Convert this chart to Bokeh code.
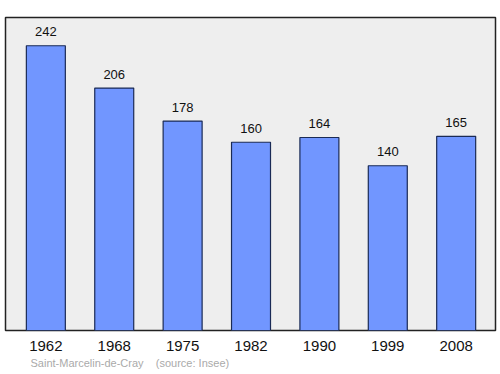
from bokeh.plotting import figure
from bokeh.models import FixedTicker, Range1d, Title, ColumnDataSource
from bokeh.core.properties import value
from bokeh.embed import file_html
from bokeh.resources import INLINE

years = ["1962", "1968", "1975", "1982", "1990", "1999", "2008"]
population = [242, 206, 178, 160, 164, 140, 165]
idx = list(range(len(years)))
labels = [str(v) for v in population]

src = ColumnDataSource(dict(x=idx, top=population, lab=labels))

p = figure(width=500, height=374, output_backend="svg", toolbar_location=None,
           x_range=Range1d(-0.59, 6.575), y_range=Range1d(0, 266),
           min_border_left=5, min_border_right=5, min_border_top=17, min_border_bottom=44)
p.background_fill_color = "#eeeeee"
p.border_fill_color = "white"
p.outline_line_color = "#222222"
p.outline_line_width = 1.5
p.grid.visible = False
p.yaxis.visible = False

p.vbar(x="x", top="top", width=0.57, bottom=0, source=src,
       fill_color="#7196ff", line_color="#1a2a55", line_width=1.2)
p.text(x="x", y="top", text="lab", source=src, text_align="center", text_baseline="middle",
       y_offset=-14, text_font=value("Liberation Sans"), text_font_size="13px", text_color="#111111")

ax = p.xaxis[0]
ax.ticker = FixedTicker(ticks=idx)
ax.major_label_overrides = {i: y for i, y in zip(idx, years)}
ax.axis_line_color = None
ax.major_tick_line_color = None
ax.minor_tick_line_color = None
ax.major_label_standoff = 4
ax.major_label_text_font = "Liberation Sans"
ax.major_label_text_font_size = "15px"
ax.major_label_text_color = "#111111"

p.add_layout(Title(text="Saint-Marcelin-de-Cray\u00a0\u00a0\u00a0\u00a0(source: Insee)", align="left", offset=25,
                   text_font="Liberation Sans", text_font_size="11px", text_font_style="normal",
                   text_color="#aaaaaa", standoff=2), "below")

open("out.html", "w").write(file_html(p, INLINE))
